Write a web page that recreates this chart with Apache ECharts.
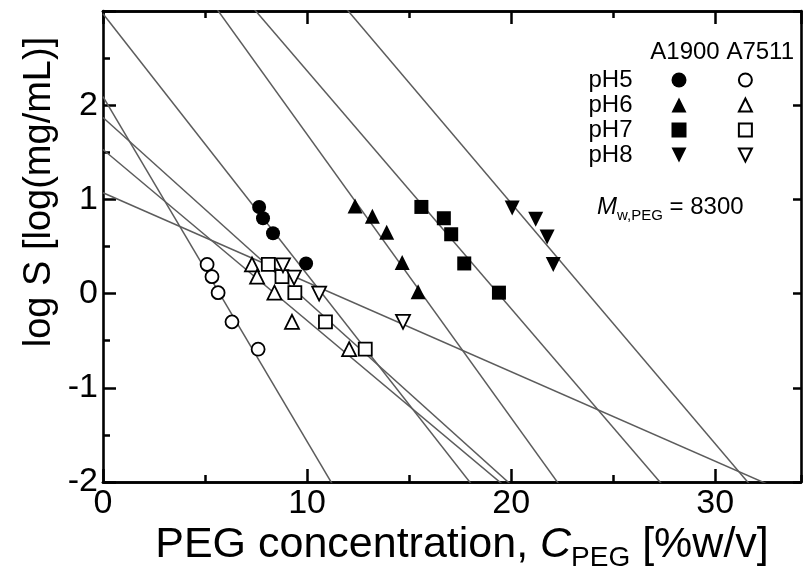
<!DOCTYPE html>
<html><head><meta charset="utf-8">
<script src="https://cdn.jsdelivr.net/npm/echarts@6/dist/echarts.min.js"></script>
<style>html,body{margin:0;padding:0;background:#fff}#c{width:808px;height:576px}</style>
</head><body><div id="c"></div>
<script>
const FONT = "'Liberation Sans', Arial, sans-serif";
// ---- data ----
const phLabels = ['pH5', 'pH6', 'pH7', 'pH8'];
const xTickLabels = ['0', '10', '20', '30'];
const yTickLabels = ['-2', '-1', '0', '1', '2'];

// A1900 (filled symbols)
const a1900_pH5_x = [7.65, 7.84, 8.33, 9.95];
const a1900_pH5_y = [0.92, 0.80, 0.64, 0.32];
const a1900_pH6_x = [12.35, 13.2, 13.9, 14.66, 15.44];
const a1900_pH6_y = [0.93, 0.82, 0.65, 0.33, 0.02];
const a1900_pH7_x = [15.6, 16.7, 17.06, 17.7, 19.4];
const a1900_pH7_y = [0.92, 0.80, 0.63, 0.32, 0.01];
const a1900_pH8_x = [20.05, 21.2, 21.76, 22.06];
const a1900_pH8_y = [0.91, 0.79, 0.60, 0.31];

// A7511 (open symbols)
const a7511_pH5_x = [5.1, 5.34, 5.64, 6.32, 7.6];
const a7511_pH5_y = [0.31, 0.18, 0.01, -0.30, -0.59];
const a7511_pH6_x = [7.3, 7.55, 8.4, 9.26, 12.06];
const a7511_pH6_y = [0.31, 0.18, 0.01, -0.30, -0.59];
const a7511_pH7_x = [8.1, 8.77, 9.4, 10.9, 12.85];
const a7511_pH7_y = [0.31, 0.18, 0.01, -0.30, -0.59];
const a7511_pH8_x = [8.82, 9.36, 10.59, 14.7];
const a7511_pH8_y = [0.30, 0.17, 0.00, -0.30];

// fitted lines: log S = intercept + slope * C
const a1900_fitIntercept = [2.97, 4.70, 4.89, 6.07];
const a1900_fitSlope = [-0.2766, -0.301, -0.2525, -0.2555];
const a7511_fitIntercept = [2.09, 1.53, 1.87, 1.07];
const a7511_fitSlope = [-0.366, -0.1816, -0.195, -0.095];

// ---- build ----
const X_MIN = 0, X_MAX = 34.2, Y_MIN = -2, Y_MAX = 3;
const zip = (xs, ys) => xs.map((x, i) => [x, ys[i]]);
const DOWN_TRI = 'path://M0,0L10,0L5,10Z';
const symbols = ['circle', 'triangle', 'rect', DOWN_TRI];
const a1900 = [[a1900_pH5_x, a1900_pH5_y], [a1900_pH6_x, a1900_pH6_y], [a1900_pH7_x, a1900_pH7_y], [a1900_pH8_x, a1900_pH8_y]];
const a7511 = [[a7511_pH5_x, a7511_pH5_y], [a7511_pH6_x, a7511_pH6_y], [a7511_pH7_x, a7511_pH7_y], [a7511_pH8_x, a7511_pH8_y]];

const series = [];
function addFit(b, m) {
  series.push({
    type: 'line', silent: true, clip: true, symbol: 'none', z: 1,
    data: [[X_MIN, b + m * X_MIN], [X_MAX, b + m * X_MAX]],
    lineStyle: {color: '#5c5c5c', width: 1.5}
  });
}
a1900_fitIntercept.forEach((b, i) => addFit(b, a1900_fitSlope[i]));
a7511_fitIntercept.forEach((b, i) => addFit(b, a7511_fitSlope[i]));

const sizes = [14, 15, 14, 15];
a1900.forEach((d, i) => series.push({
  name: 'A1900 ' + phLabels[i], type: 'scatter', z: 3,
  symbol: symbols[i], symbolSize: sizes[i],
  itemStyle: {color: '#000', opacity: 1},
  data: zip(d[0], d[1])
}));
a7511.forEach((d, i) => series.push({
  name: 'A7511 ' + phLabels[i], type: 'scatter', z: 4,
  symbol: symbols[i], symbolSize: sizes[i] - 1,
  itemStyle: {color: '#fff', borderColor: '#000', borderWidth: 1.8, opacity: 1},
  data: zip(d[0], d[1])
}));

const axLine = {show: true, onZero: false, lineStyle: {color: '#000', width: 2.6}};
function xAx(pos, interval, tickLen, labels) {
  return {
    type: 'value', position: pos, min: X_MIN, max: X_MAX, interval: interval,
    axisLine: axLine,
    axisTick: {show: true, inside: true, length: tickLen, lineStyle: {color: '#000', width: 2.5}},
    axisLabel: labels ? {show: true, showMaxLabel: false, color: '#000', fontFamily: FONT, fontSize: 34, margin: 5,
      formatter: v => xTickLabels[Math.round(v / 10)] ?? ''} : {show: false},
    splitLine: {show: false}
  };
}
function yAx(pos, labels, majorLen, minor) {
  return {
    type: 'value', position: pos, min: Y_MIN, max: Y_MAX, interval: 1,
    axisLine: axLine,
    axisTick: {show: true, inside: true, length: majorLen, lineStyle: {color: '#000', width: 2.5}},
    minorTick: {show: minor, splitNumber: 2, length: 7, lineStyle: {color: '#000', width: 2.5}},
    axisLabel: labels ? {show: true, showMaxLabel: false, color: '#000', fontFamily: FONT, fontSize: 34, margin: 5,
      formatter: v => yTickLabels[Math.round(v) + 2] ?? ''} : {show: false},
    splitLine: {show: false}
  };
}

const option = {
  backgroundColor: '#fff',
  animation: false,
  grid: {left: 103, right: 7, top: 11, bottom: 94, containLabel: false},
  xAxis: [xAx('bottom', 10, 13, true), xAx('bottom', 5, 7, false), xAx('top', 10, 13, false), xAx('top', 5, 7, false)],
  yAxis: [yAx('left', true, 13, true), yAx('right', false, 8, false)],
  legend: [
    {
      data: a1900.map((_, i) => 'A1900 ' + phLabels[i]),
      formatter: n => n.split(' ')[1],
      orient: 'vertical', align: 'right', right: 116.5, top: 63,
      itemWidth: 15, itemHeight: 15, itemGap: 1, selectedMode: false,
      textStyle: {fontFamily: FONT, fontSize: 24, color: '#000', lineHeight: 24, padding: [0, 34, 0, 0]}
    },
    {
      data: a7511.map((_, i) => 'A7511 ' + phLabels[i]),
      formatter: () => ' ',
      orient: 'vertical', align: 'left', right: 40, top: 63,
      itemWidth: 13, itemHeight: 13, itemGap: 1, selectedMode: false,
      textStyle: {fontFamily: FONT, fontSize: 22, color: '#000', lineHeight: 24}
    }
  ],
  graphic: [
    {type: 'text', x: 794, y: 52, style: {text: 'A1900 A7511', font: '24px ' + FONT, fill: '#000', align: 'right', verticalAlign: 'middle'}},
    {type: 'text', x: 597, y: 207, style: {
      text: '{i|M}{s|w,PEG}{a| = 8300}', align: 'left', verticalAlign: 'middle',
      rich: {
        i: {fontFamily: FONT, fontStyle: 'italic', fontSize: 24, lineHeight: 32, fill: '#000'},
        s: {fontFamily: FONT, fontSize: 15, lineHeight: 15, verticalAlign: 'bottom', fill: '#000'},
        a: {fontFamily: FONT, fontSize: 24, lineHeight: 32, fill: '#000'}
      }}},
    {type: 'text', x: 462, y: 545, style: {
      text: '{a|PEG concentration, }{i|C}{s|PEG}{a| [%w/v]}', align: 'center', verticalAlign: 'middle',
      rich: {
        a: {fontFamily: FONT, fontSize: 43, lineHeight: 54, fill: '#000'},
        i: {fontFamily: FONT, fontStyle: 'italic', fontSize: 43, lineHeight: 54, fill: '#000'},
        s: {fontFamily: FONT, fontSize: 28, lineHeight: 28, verticalAlign: 'bottom', fill: '#000'}
      }}},
    {type: 'text', x: 40, y: 192, rotation: Math.PI / 2, style: {
      text: 'log S [log(mg/mL)]', font: '38px ' + FONT, fill: '#000', align: 'center', verticalAlign: 'middle'}}
  ],
  series: series
};
const chart = echarts.init(document.getElementById('c'), null, {renderer: 'canvas'});
chart.setOption(option);
</script></body></html>
